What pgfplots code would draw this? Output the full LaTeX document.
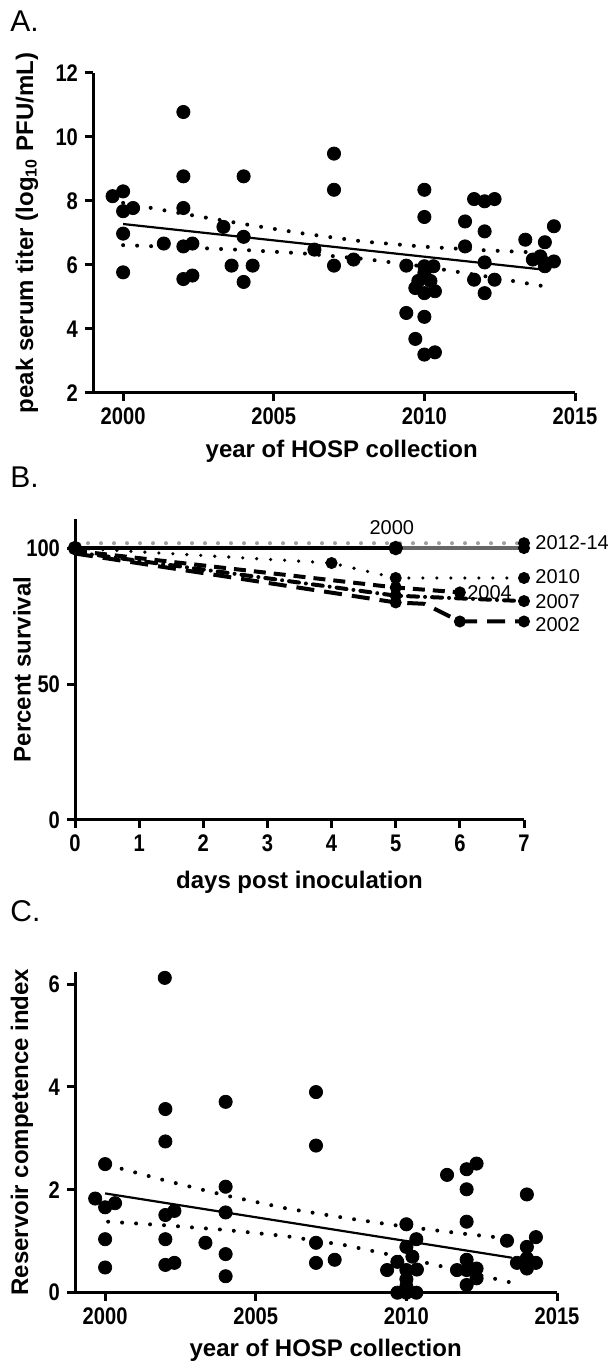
\documentclass[border=0pt]{standalone}
\usepackage{fontspec}
\setmainfont{Liberation Sans}
\newfontfamily\narrowfont[FakeStretch=0.84]{Liberation Sans}
\usepackage{pgfplots}
\usepackage{pgfplotstable}
\pgfplotsset{compat=1.18}

\pgfplotstableread{
x y
1999.65 8.15
2000 8.3
2000 7.68
2000.33 7.78
2000 6.98
2000 5.77
2001.35 6.67
2002 10.78
2002 8.77
2002 7.78
2002 6.58
2002.3 6.67
2002 5.56
2002.3 5.67
2003.33 7.19
2004 8.77
2004 6.88
2003.6 5.98
2004.3 5.98
2004 5.47
2006.35 6.48
2007 9.48
2007 8.35
2007 5.98
2007.65 6.17
2009.4 5.98
2010 8.35
2010 7.5
2009.4 4.5
2010 4.38
2009.7 3.69
2010 3.2
2010.35 3.27
2010 5.96
2010.3 5.96
2010 5.75
2009.8 5.5
2010.2 5.5
2009.7 5.28
2010 5.12
2010.35 5.18
2011.35 7.36
2011.35 6.58
2011.65 8.06
2012 7.99
2012.33 8.06
2012 7.05
2012 6.08
2011.65 5.54
2012.33 5.54
2012 5.12
2013.35 6.79
2014.3 7.21
2014 6.71
2013.85 6.27
2014 6.06
2014.3 6.11
2013.6 6.17
2014 5.96
}\titerdata

\pgfplotstableread{
x y
1999.67 1.83
2000 2.5
2000 1.66
2000.33 1.74
2000 1.04
2000 0.49
2001.98 6.12
2002 3.57
2002 2.94
2002 1.51
2002.3 1.59
2002 1.04
2002 0.54
2002.3 0.58
2003.33 0.97
2004 3.71
2004 2.06
2004 1.56
2004 0.75
2004 0.32
2007 3.9
2007 2.86
2007 0.97
2007 0.58
2007.62 0.64
2010 1.33
2010.33 1.04
2010 0.89
2010.2 0.7
2009.7 0.6
2009.36 0.44
2010.35 0.45
2010 0.44
2010 0.26
2010 0.12
2009.7 0
2010 0
2010.33 0
2011.35 2.29
2012 2.4
2012.33 2.51
2012 2.01
2012 1.38
2011.68 0.44
2012 0.64
2012.33 0.47
2012 0.44
2012.33 0.28
2012 0.15
2014 1.91
2013.34 1.01
2014.3 1.08
2014 0.89
2013.67 0.58
2014 0.47
2014.3 0.58
2014 0.67
}\rcidata

\pgfplotsset{
  gp/.style={
    scale only axis,
    axis x line*=bottom, axis y line*=left,
    axis line style={-, line width=1.5pt},
    major tick style={black, line width=1.5pt},
    major tick length=4pt,
    tick align=outside,
    ticklabel style={font=\narrowfont\bfseries\fontsize{12}{14}\selectfont},
    label style={font=\bfseries\fontsize{12}{14}\selectfont},
    clip=false,
  },
  pts/.style={only marks, mark=*, mark size=3.3pt, black, mark options={fill=black}},
  fit/.style={black, line width=1.1pt, no marks},
  band/.style={black, line width=2pt, line cap=round, dash pattern=on 0pt off 7pt, no marks},
  surv/.style={black, mark=*, mark size=2.8pt, mark options={solid, fill=black}},
}

\begin{document}
\begin{tikzpicture}
\path[use as bounding box] (0,0) rectangle (305pt,684pt);

% ---------- panel labels
\node[anchor=base west, font=\fontsize{15}{18}\selectfont, inner sep=0pt] at (5pt,668pt) {A.};
\node[anchor=base west, font=\fontsize{15}{18}\selectfont, inner sep=0pt] at (5pt,440pt) {B.};
\node[anchor=base west, font=\fontsize{15}{18}\selectfont, inner sep=0pt] at (5pt,223pt) {C.};

% ---------- panel A
\begin{axis}[gp,
  at={(46.5pt,487.5pt)}, anchor=south west,
  width=241pt, height=160pt,
  xmin=1999, xmax=2015, ymin=2, ymax=12,
  xtick={2000,2005,2010,2015}, xticklabels={2000,2005,2010,2015},
  ytick={2,4,6,8,10,12}, yticklabels={2,4,6,8,10,12},
  xlabel={year of HOSP collection},
  ylabel={peak serum titer (log\textsubscript{10} PFU/mL)},
  xlabel style={at={(axis description cs:0.516,-0.203)}, anchor=base},
  ylabel style={at={(axis description cs:-0.137,0.5)}, anchor=center},
]
\addplot[band] coordinates {(2000,7.94)(2002,7.60)(2004,7.28)(2006,6.98)(2008,6.73)(2010,6.57)(2012,6.46)(2014,6.38)};
\addplot[band] coordinates {(2000,6.62)(2002,6.55)(2004,6.47)(2006,6.36)(2008,6.19)(2010,5.95)(2012,5.65)(2014,5.33)};
\addplot[fit] coordinates {(2000,7.28)(2014,5.85)};
\addplot[pts] table[x=x,y=y] {\titerdata};
\end{axis}

% ---------- panel B
\begin{axis}[gp,
  at={(37.5pt,274pt)}, anchor=south west,
  width=224.5pt, height=150.5pt,
  xmin=0, xmax=7, ymin=0, ymax=110.7,
  xtick={0,1,2,3,4,5,6,7}, xticklabels={0,1,2,3,4,5,6,7},
  ytick={0,50,100}, yticklabels={0,50,100},
  xlabel={days post inoculation},
  ylabel={Percent survival},
  xlabel style={at={(axis description cs:0.5,-0.226)}, anchor=base},
  ylabel style={at={(axis description cs:-0.118,0.5)}, anchor=center},
  every node/.append style={font=\fontsize{10}{12}\selectfont},
]
% 2012-14 (grey)
\addplot[gray!75, line width=2pt, line cap=round, dash pattern=on 0pt off 6.5pt, no marks] coordinates {(0,101.8)(7,101.8)};
\addplot[gray!80!black, line width=1.6pt, no marks] coordinates {(0,100)(7,100)};
\addplot[only marks, mark=*, mark size=2.8pt, black] coordinates {(7,101.8)(7,100)};
% 2000
\addplot[surv, line width=1.6pt] coordinates {(0,100)(5,100)};
% 2010
\addplot[black, line width=1.8pt, line cap=round, dash pattern=on 0pt off 7pt, no marks] coordinates {(0,100)(4,94.5)(5,89)(7,89)};
\addplot[only marks, mark=*, mark size=2.8pt, black] coordinates {(4,94.5)(5,89)(7,89)};
% 2004
\addplot[black, line width=2pt, dash pattern=on 6pt off 4pt, no marks] coordinates {(0,99)(5,85.5)(6,83.7)};
\addplot[only marks, mark=*, mark size=2.8pt, black] coordinates {(5,85.5)(6,83.7)};
% 2007
\addplot[black, line width=2pt, line cap=round, dash pattern=on 5pt off 3.5pt on 0pt off 3.5pt, no marks] coordinates {(0,98.5)(5,82.5)(7,80.5)};
\addplot[only marks, mark=*, mark size=2.8pt, black] coordinates {(5,82.5)(7,80.5)};
% 2002
\addplot[black, line width=2pt, dash pattern=on 9pt off 5pt, no marks] coordinates {(0,98)(5,80)(5.45,79.5)(6,73)(7,73)};
\addplot[only marks, mark=*, mark size=2.8pt, black] coordinates {(5,80)(6,73)(7,73)};

\node[anchor=base] at (axis cs:4.94,104.9) {2000};
\node[anchor=base west, xshift=5.5pt, inner sep=0pt] at (axis cs:7,99.6) {2012-14};
\node[anchor=base west, xshift=5.5pt, inner sep=0pt] at (axis cs:7,87.1) {2010};
\node[anchor=base west, xshift=5.5pt, inner sep=0pt] at (axis cs:7,77.6) {2007};
\node[anchor=base west, xshift=5.5pt, inner sep=0pt] at (axis cs:7,69.3) {2002};
\node[anchor=base west, inner sep=0pt] at (axis cs:6.11,81.2) {2004};
\end{axis}

% ---------- panel C
\begin{axis}[gp,
  at={(37.5pt,37.65pt)}, anchor=south west,
  width=241pt, height=160.5pt,
  xmin=1999, xmax=2015, ymin=0, ymax=6.24,
  xtick={2000,2005,2010,2015}, xticklabels={2000,2005,2010,2015},
  ytick={0,2,4,6}, yticklabels={0,2,4,6},
  xlabel={year of HOSP collection},
  ylabel={Reservoir competence index},
  xlabel style={at={(axis description cs:0.52,-0.2)}, anchor=base},
  ylabel style={at={(axis description cs:-0.11,0.5)}, anchor=center},
]
\addplot[band] coordinates {(2000.1,2.48)(2002,2.18)(2004,1.89)(2006,1.64)(2008,1.45)(2010,1.28)(2012,1.14)(2013.6,1.04)};
\addplot[band] coordinates {(2000.1,1.38)(2002,1.31)(2004,1.22)(2006,1.10)(2008,0.92)(2010,0.67)(2012,0.40)(2013.6,0.18)};
\addplot[fit] coordinates {(2000,1.93)(2013.5,0.68)};
\addplot[pts] table[x=x,y=y] {\rcidata};
\end{axis}
\end{tikzpicture}
\end{document}
